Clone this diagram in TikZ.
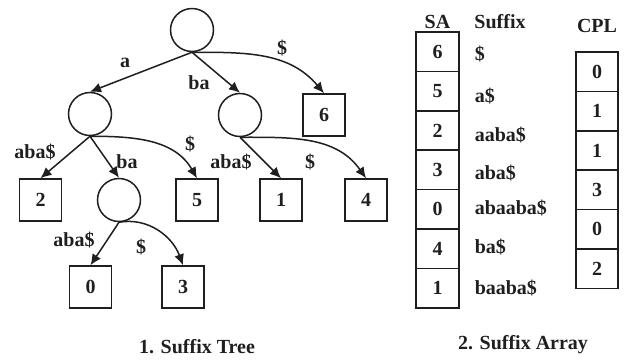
\documentclass[tikz,border=0pt]{standalone}
\usepackage{fontspec}
\setmainfont{Liberation Serif}
\usetikzlibrary{arrows.meta}

\begin{document}
\begin{tikzpicture}[x=1pt,y=-1pt,line width=1.5pt,color=black!88,
	every node/.style={font=\fontsize{20}{23}\selectfont\bfseries},
	inner/.style={circle,draw,minimum size=43pt,inner sep=0pt},
	leaf/.style={rectangle,draw,minimum size=42pt,inner sep=0pt},
	cell/.style={rectangle,draw,minimum width=43pt,minimum height=39.4pt,inner sep=0pt},
	lbl/.style={inner sep=0pt},
	edge/.style={-{Latex[length=11pt,width=10pt]}}]
		\useasboundingbox (0,0) rectangle (629,360);
		% suffix tree
		\node[inner] (root) at (192,30) {};
		\node[inner] (na) at (90,114) {};
		\node[inner] (nba) at (240,115) {};
		\node[inner] (naba) at (119,200) {};
		\node[leaf] (l6) at (324,115) {6};
		\node[leaf] (l2) at (40.5,200) {2};
		\node[leaf] (l5) at (197,200) {5};
		\node[leaf] (l1) at (281,200) {1};
		\node[leaf] (l4) at (366,200) {4};
		\node[leaf] (l0) at (90.5,287) {0};
		\node[leaf] (l3) at (183,287) {3};
		\draw[edge] (root.south)--(na.north);
		\draw[edge] (root.south)--(nba.north);
		\draw[edge] (root.south) to[out=0,in=130] (l6.north);
		\draw[edge] (na.south)--(l2.north);
		\draw[edge] (na.south)--(naba.north);
		\draw[edge] (na.south) to[out=0,in=120] (l5.north);
		\draw[edge] (nba.south)--(l1.north);
		\draw[edge] (nba.south) to[out=0,in=125] (l4.north);
		\draw[edge] (naba.south)--(l0.north);
		\draw[edge] (naba.south) to[out=10,in=110] (l3.north);
		\node[lbl] (ta) at (125,63) {a};
		\node[lbl] (tba) at (199,83) {ba};
		\node[lbl] (t6) at (282,48) {\$};
		\node[lbl] (t2) at (35,152) {aba\$};
		\node[lbl] (tb) at (127,162) {ba};
		\node[lbl] (t5) at (190,144) {\$};
		\node[lbl] (t1) at (231,162) {aba\$};
		\node[lbl] (t4) at (310,162) {\$};
		\node[lbl] (t0) at (74,240) {aba\$};
		\node[lbl] (t3) at (141,247) {\$};
		\node (cap1) at (197,347) {1. Suffix Tree};
		% suffix array
		\node (hsa) at (437.5,22) {SA};
		\node (hsuf) at (500,22) {Suffix};
		\node (hcpl) at (597,26) {CPL};
		\foreach \v [count=\i from 0] in {6,5,2,3,0,4,1}
			\node[cell] (sa\i) at (437.5,{51.7+39.4*\i}) {\v};
		\foreach \s/\y [count=\i from 0] in {\$/54,a\$/96,aaba\$/135,aba\$/173,abaaba\$/208,ba\$/247,baaba\$/288}
			\node[lbl,anchor=west] (suf\i) at (474,\y) {\s};
		\foreach \v [count=\i from 0] in {0,1,1,3,0,2}
			\node[cell,minimum width=42pt] (cpl\i) at (597,{71.7+39.4*\i}) {\v};
		\node (cap2) at (523,345) {2. Suffix Array};
	\end{tikzpicture}
\end{document}
